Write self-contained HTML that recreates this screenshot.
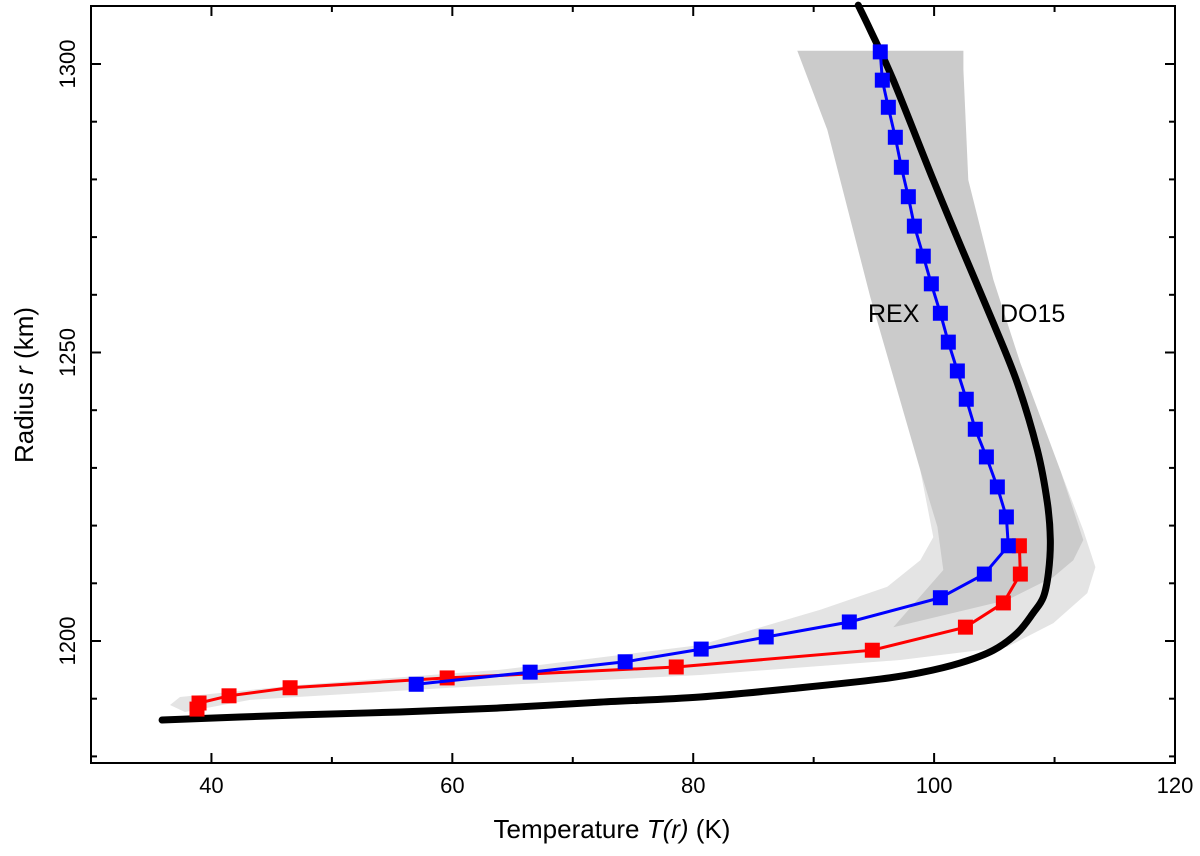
<!DOCTYPE html>
<html><head><meta charset="utf-8"><style>
html,body{margin:0;padding:0;background:#fff;}
svg{display:block;font-family:"Liberation Sans",sans-serif;}
</style></head><body>
<svg id="chart" width="1200" height="856" viewBox="0 0 1200 856">
<g id="bands"></g>
<g id="series"></g>
<g id="axes"></g>
<text x="868" y="322" font-size="25" fill="#000">REX</text>
<text x="1000" y="322" font-size="25" fill="#000">DO15</text>
<text x="612" y="838" font-size="26" text-anchor="middle">Temperature <tspan font-style="italic">T(r)</tspan> (K)</text>
<text transform="translate(33,385) rotate(-90)" font-size="26" text-anchor="middle">Radius <tspan font-style="italic">r</tspan> (km)</text>
</svg>
<script>
const xTicks = [40, 60, 80, 100, 120];
const yTicks = [1200, 1250, 1300];
const blueT = [95.53,95.70,96.20,96.78,97.28,97.86,98.36,99.10,99.77,100.52,101.18,101.93,102.67,103.42,104.34,105.25,106.00,106.16,104.17,100.52,92.96,86.06,80.66,74.35,66.46,57.0];
const blueR = [1302.1,1297.2,1292.5,1287.3,1282.1,1277.0,1271.9,1266.7,1261.9,1256.8,1251.8,1246.8,1241.9,1236.7,1231.9,1226.7,1221.5,1216.5,1211.6,1207.5,1203.3,1200.7,1198.6,1196.4,1194.6,1192.5];
const redT = [107.08,107.16,105.75,102.6,94.87,78.59,59.57,46.53,41.46,38.97,38.8];
const redR = [1216.5,1211.6,1206.6,1202.4,1198.4,1195.5,1193.6,1191.9,1190.5,1189.25,1188.2];
const do15T = [93.70,94.70,96.61,99.93,102.34,104.92,106.91,108.57,109.40,109.65,109.49,109.07,108.24,106.91,104.92,102.18,98.85,95.53,88.89,80.58,72.28,63.97,55.66,47.36,35.9];
const do15R = [1310.2,1305.9,1297.2,1279.9,1267.8,1255.1,1244.7,1233.1,1224.0,1217.5,1211.8,1207.6,1204.9,1201.4,1198.4,1196.2,1194.5,1193.4,1191.9,1190.3,1189.4,1188.4,1187.7,1187.2,1186.3];
const darkBandT = [88.64,102.43,102.43,102.84,104.92,107.16,110.48,112.39,111.56,109.90,106.08,96.61,100.76,100.27,98.85,94.70,91.13];
const darkBandR = [1302.3,1302.3,1299.0,1279.9,1262.6,1248.2,1229.6,1217.5,1214.0,1211.1,1207.1,1202.4,1212.3,1219.8,1229.6,1259.6,1288.6];
const lightBandT = [98.85,110.48,112.39,113.39,112.72,109.90,106.08,97.19,80.58,59.82,43.21,37.8,36.56,37.39,47.36,63.97,80.58,90.55,96.11,98.85,99.93];
const lightBandR = [1229.6,1229.6,1219.2,1212.8,1208.3,1203.1,1199.0,1196.7,1194.1,1191.9,1189.8,1187.7,1188.9,1190.3,1192.4,1195.0,1199.3,1205.4,1209.4,1214.0,1218.0];

const X0=91, X1=1175, Y0=6, Y1=763;
const tMin=30, tMax=120;
function xs(t){return X0+(t-tMin)*(X1-X0)/(tMax-tMin);}
function ys(r){return 64+(1300-r)*5.77;}
const NS="http://www.w3.org/2000/svg";
function mk(tag,attrs,parent){const e=document.createElementNS(NS,tag);for(const k in attrs)e.setAttribute(k,attrs[k]);parent.appendChild(e);return e;}
const bands=document.getElementById('bands'), series=document.getElementById('series'), axes=document.getElementById('axes');

function poly(T,R){return T.map((t,i)=>xs(t).toFixed(1)+','+ys(R[i]).toFixed(1)).join(' ');}
let lb=mk('polygon',{points:poly(lightBandT,lightBandR),fill:'#e4e4e4'},bands);


let db=mk('polygon',{points:poly(darkBandT,darkBandR),fill:'#cbcbcb'},bands);



function smooth(T,R){
  const p=T.map((t,i)=>[xs(t),ys(R[i])]);
  let d='M'+p[0][0]+','+p[0][1];
  for(let i=0;i<p.length-1;i++){
    const a=p[Math.max(0,i-1)],b=p[i],c=p[i+1],e=p[Math.min(p.length-1,i+2)];
    const c1=[b[0]+(c[0]-a[0])/6,b[1]+(c[1]-a[1])/6],c2=[c[0]-(e[0]-b[0])/6,c[1]-(e[1]-b[1])/6];
    d+=' C'+c1.join(',')+' '+c2.join(',')+' '+c.join(',');
  }
  return d;
}
let dl=mk('path',{d:smooth(do15T,do15R),fill:'none',stroke:'#000','stroke-width':7,'stroke-linecap':'round','stroke-linejoin':'round'},series);



function drawSeries(T,R,color,name){
  const l=mk('polyline',{points:poly(T,R),fill:'none',stroke:color,'stroke-width':3},series);
  
  
  T.forEach((t,i)=>{
    const s=mk('rect',{x:xs(t)-7.5,y:ys(R[i])-7.5,width:15,height:15,fill:color},series);
    
    
  });
}
drawSeries(redT,redR,'#ff0000','red-series');
drawSeries(blueT,blueR,'#0000ff','blue-series');

let fr=mk('rect',{x:X0,y:Y0,width:X1-X0,height:Y1-Y0,fill:'none',stroke:'#000','stroke-width':2},axes);


for(let t=40;t<120;t+=10){
  const maj=(t%20===0), L=maj?10:6, x=xs(t);
  let a=mk('line',{x1:x,y1:Y1,x2:x,y2:Y1-L,stroke:'#000','stroke-width':2},axes);
  
  
  let b=mk('line',{x1:x,y1:Y0,x2:x,y2:Y0+L,stroke:'#000','stroke-width':2},axes);
  
  
}
xTicks.forEach(t=>{
  const tx=mk('text',{x:xs(t),y:793,'font-size':22,'text-anchor':'middle'},axes);
  tx.textContent=t;
  
  
});
for(let r=1180;r<=1310;r+=10){
  const y=ys(r); if(y<Y0+2||y>Y1-2) continue;
  const L=(r%50===0)?10:6;
  let a=mk('line',{x1:X0,y1:y,x2:X0+L,y2:y,stroke:'#000','stroke-width':2},axes);
  
  
  let b=mk('line',{x1:X1,y1:y,x2:X1-L,y2:y,stroke:'#000','stroke-width':2},axes);
  
  
}
yTicks.forEach(r=>{
  const tx=mk('text',{transform:'translate(75,'+ys(r)+') rotate(-90)','font-size':22,'text-anchor':'middle'},axes);
  tx.textContent=r;
  
  
});
</script>
</body></html>
